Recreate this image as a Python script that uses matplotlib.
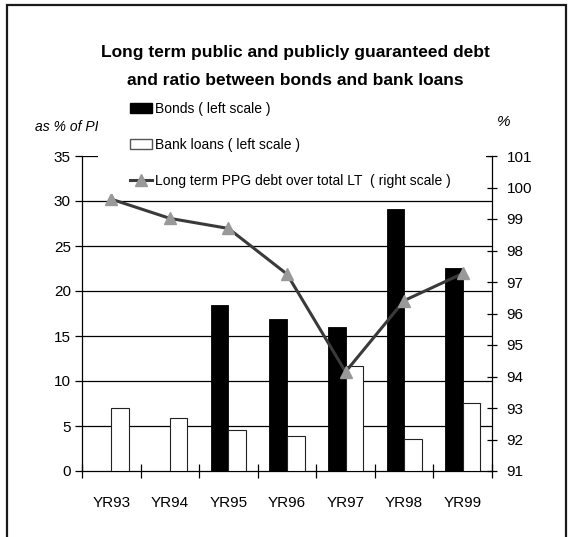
import matplotlib
matplotlib.use("Agg")
import matplotlib.pyplot as plt
from matplotlib.patches import Rectangle, Patch
from matplotlib.lines import Line2D
import numpy as np

categories = ["YR93", "YR94", "YR95", "YR96", "YR97", "YR98", "YR99"]
bonds = [0, 0, 18.4, 16.9, 16.0, 29.1, 22.6]
bank_loans = [7.0, 5.9, 4.6, 3.85, 11.7, 3.55, 7.6]
ppg_ratio = [99.63, 99.02, 98.70, 97.25, 94.15, 96.41, 97.27]

title_lines = ["Long term public and publicly guaranteed debt",
               "and ratio between bonds and bank loans"]
legend_labels = ["Bonds ( left scale )", "Bank loans ( left scale )",
                 "Long term PPG debt over total LT  ( right scale )"]
left_ticks = [0, 5, 10, 15, 20, 25, 30, 35]
right_ticks = [91, 92, 93, 94, 95, 96, 97, 98, 99, 100, 101]

plt.rcParams['font.family'] = ['Liberation Sans', 'DejaVu Sans']

W, H = 576, 537
fig = plt.figure(figsize=(W / 100, H / 100), dpi=100)
fig.patch.set_facecolor("white")

def fx(px):
    return px / W

def fy(py):
    return 1 - py / H

ax = fig.add_axes([fx(82), fy(471), fx(492) - fx(82), fy(156) - fy(471)])
ax2 = ax.twinx()

x = np.arange(len(categories))
bw = 0.3
ax.bar(x - bw / 2, bonds, width=bw, color="black", edgecolor="black", linewidth=0.6, zorder=3)
ax.bar(x + bw / 2, bank_loans, width=bw, color="white", edgecolor="#222222", linewidth=0.8, zorder=3)

ax.set_xlim(-0.5, len(categories) - 0.5)
ax.set_ylim(0, 35)
ax.set_yticks(left_ticks)
ax.set_yticklabels([str(t) for t in left_ticks], fontsize=11)
for t in left_ticks[1:]:
    ax.axhline(t, color="black", linewidth=0.9, zorder=1)

ax.set_xticks(x)
ax.set_xticklabels(categories, fontsize=11)
ax.set_xticks(np.arange(-0.5, len(categories), 1.0), minor=True)
ax.tick_params(axis="x", which="minor", length=10, direction="inout", width=0.9)
ax.tick_params(axis="x", which="major", length=0, pad=18)
ax.tick_params(axis="y", length=5, direction="out", width=0.9, pad=3)

ax.spines["top"].set_visible(False)
ax2.spines["top"].set_visible(False)
ax2.spines["left"].set_visible(False)
ax.spines["right"].set_visible(False)
ax.spines["left"].set_linewidth(0.9)
ax.spines["bottom"].set_linewidth(0.9)
ax2.spines["right"].set_linewidth(0.9)
ax2.spines["bottom"].set_visible(False)

ax2.plot(x, ppg_ratio, color="#3a3a3a", linewidth=2.2, marker="^", markersize=8,
         markerfacecolor="#999999", markeredgecolor="#999999", zorder=5)
ax2.set_ylim(91, 101)
ax2.set_yticks(right_ticks)
ax2.set_yticklabels([str(t) for t in right_ticks], fontsize=11)
ax2.tick_params(axis="y", length=7, direction="inout", width=0.9, pad=7)

# Title
fig.text(fx(295), fy(57), title_lines[0], ha="center", va="baseline",
         fontsize=12.5, fontweight="bold")
fig.text(fx(295), fy(85), title_lines[1], ha="center", va="baseline",
         fontsize=12.5, fontweight="bold")

# axis unit labels
fig.text(fx(35), fy(127), "as % of PIB", ha="left", va="center",
         fontsize=10, fontstyle="italic", zorder=3)
fig.text(fx(497), fy(122), "%", ha="left", va="center",
         fontsize=11, fontstyle="italic")

# legend background box (covers part of the plot, as in the original)
fig.add_artist(Rectangle((fx(98), fy(194)), fx(486) - fx(98), fy(92) - fy(194),
                         transform=fig.transFigure, facecolor="white",
                         edgecolor="none", zorder=5))

handles = [Patch(facecolor="black", edgecolor="black"),
           Patch(facecolor="white", edgecolor="#555555"),
           Line2D([0], [0], color="#3a3a3a", linewidth=2.2, marker="^",
                  markersize=8, markerfacecolor="#999999", markeredgecolor="#999999")]
leg = fig.legend(handles, legend_labels, loc="upper left",
                 bbox_to_anchor=(fx(130), fy(102)), frameon=False, fontsize=10,
                 handlelength=1.58, handleheight=0.65, handletextpad=0.2,
                 labelspacing=1.58, borderpad=0, borderaxespad=0)
leg.set_zorder(6)

# outer border
fig.add_artist(Rectangle((fx(7), fy(540)), fx(566) - fx(7), fy(5) - fy(540),
                         transform=fig.transFigure, facecolor="none",
                         edgecolor="#1a1a1a", linewidth=1.6, zorder=7,
                         clip_on=False))

fig.savefig("out.png", dpi=100, facecolor="white")
